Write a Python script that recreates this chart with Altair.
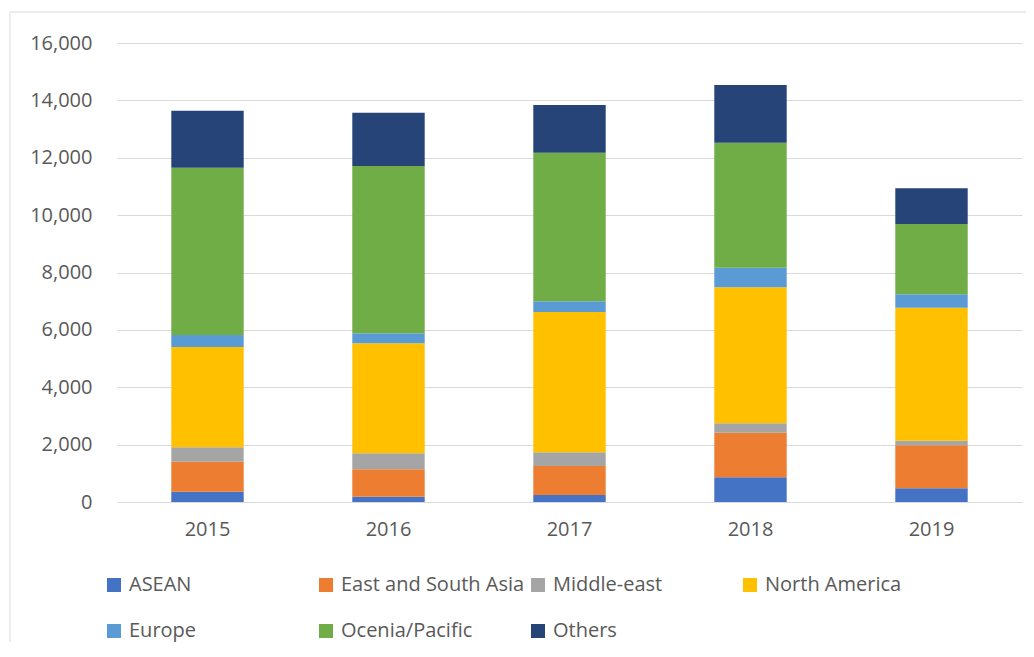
import altair as alt
import pandas as pd

years = ["2015", "2016", "2017", "2018", "2019"]
regions = ["ASEAN", "East and South Asia", "Middle-east", "North America",
           "Europe", "Ocenia/Pacific", "Others"]
colors = ["#4472C4", "#ED7D31", "#A5A5A5", "#FFC000", "#5B9BD5", "#70AD47", "#264478"]

asean = [360, 185, 244, 861, 478]
east_south_asia = [1045, 955, 1011, 1555, 1499]
middle_east = [500, 558, 478, 327, 160]
north_america = [3495, 3834, 4890, 4741, 4636]
europe = [420, 349, 373, 684, 467]
oceania = [5830, 5832, 5181, 4357, 2451]
others = [1990, 1858, 1662, 2012, 1245]

series = [asean, east_south_asia, middle_east, north_america, europe, oceania, others]

rows = []
for i, (name, vals) in enumerate(zip(regions, series)):
    for y, v in zip(years, vals):
        rows.append({"Year": y, "Region": name, "Value": v, "order": i})
df = pd.DataFrame(rows)

font = "Open Sans"
gray = "#595959"

bars = alt.Chart(df).mark_bar().encode(
    x=alt.X("Year:N", title=None,
            scale=alt.Scale(paddingInner=0.6, paddingOuter=0.3),
            axis=alt.Axis(labelAngle=0, ticks=False, domainColor="#d9d9d9",
                          labelPadding=17, grid=False)),
    y=alt.Y("sum(Value):Q", title=None, stack="zero",
            scale=alt.Scale(domain=[0, 16000], nice=False),
            axis=alt.Axis(values=list(range(0, 16001, 2000)), format=",d",
                          ticks=False, domain=False, labelPadding=25,
                          gridColor="#d9d9d9", gridWidth=1)),
    color=alt.Color("Region:N",
                    scale=alt.Scale(domain=regions, range=colors),
                    legend=alt.Legend(title=None, orient="none", direction="horizontal",
                                      columns=4, gridAlign="all",
                                      legendX=-13, legendY=532,
                                      symbolType="square", symbolSize=196,
                                      symbolStrokeWidth=0, symbolOpacity=1,
                                      labelFontSize=20, labelFont=font,
                                      labelColor=gray, labelOffset=5,
                                      rowPadding=26, columnPadding=3,
                                      padding=0, labelLimit=400)),
    order=alt.Order("order:Q", sort="ascending"),
)

border = alt.Chart(pd.DataFrame({"a": [0]})).mark_rect(
    fill=None, stroke="#d9d9d9", strokeWidth=1
).encode(
    x=alt.value(-107), x2=alt.value(1000), y=alt.value(-31), y2=alt.value(700)
)

chart = alt.layer(border, bars).properties(
    width=905, height=459,
    autosize=alt.AutoSizeParams(type="none"),
    padding={"left": 109, "top": 35, "right": 4, "bottom": 140},
).configure_view(
    stroke=None
).configure_axis(
    labelFont=font, labelFontSize=20, labelColor=gray
)

chart.save("out.html", embed_options={"renderer": "svg", "actions": False})
